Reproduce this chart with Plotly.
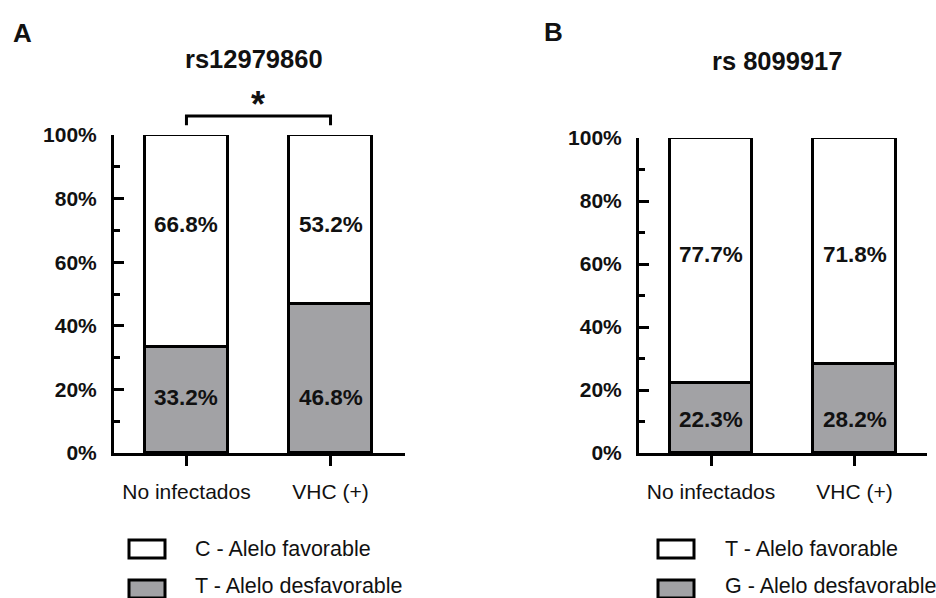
import plotly.graph_objects as go

# ---------------- data ----------------
categories = ["No infectados", "VHC (+)"]
a_unfav = [33.2, 46.8]   # T - Alelo desfavorable
a_fav = [66.8, 53.2]     # C - Alelo favorable
b_unfav = [22.3, 28.2]   # G - Alelo desfavorable
b_fav = [77.7, 71.8]     # T - Alelo favorable
a_names = ["C - Alelo favorable", "T - Alelo desfavorable"]
b_names = ["T - Alelo favorable", "G - Alelo desfavorable"]
titles = ["rs12979860", "rs 8099917"]
panel_letters = ["A", "B"]
y_tickvals = [0, 20, 40, 60, 80, 100]
y_ticktext = ["0%", "20%", "40%", "60%", "80%", "100%"]
significance = "*"

# ---------------- style ----------------
W, H = 936, 598
GRAY = "#a2a2a5"
FONT = "Arial, Liberation Sans, sans-serif"
BAR_W = 0.576
LW = 3

def px(x):
    return x / W

def py(y):
    return 1 - y / H

fig = go.Figure()

def add_bars(xa, ya, unfav, fav, names):
    fig.add_trace(go.Bar(x=categories, y=unfav, name=names[1], width=BAR_W,
                         marker=dict(color=GRAY, line=dict(color="black", width=LW)),
                         xaxis=xa, yaxis=ya, showlegend=False, hoverinfo="skip"))
    fig.add_trace(go.Bar(x=categories, y=fav, name=names[0], width=BAR_W,
                         marker=dict(color="white", line=dict(color="black", width=LW)),
                         xaxis=xa, yaxis=ya, showlegend=False, hoverinfo="skip"))

add_bars("x", "y", a_unfav, a_fav, a_names)
add_bars("x2", "y2", b_unfav, b_fav, b_names)

xcommon = dict(type="category", showline=True, linewidth=LW, linecolor="black",
               ticks="outside", ticklen=10, tickwidth=LW, tickcolor="black",
               showgrid=False, zeroline=False, ticklabelstandoff=8, automargin=False,
               tickfont=dict(family=FONT, size=21, color="#111"))
ycommon = dict(range=[0, 100], showline=True, linewidth=LW, linecolor="black",
               ticks="inside", ticklen=10, tickwidth=LW, tickcolor="black",
               tickvals=y_tickvals, ticktext=y_ticktext, automargin=False,
               minor=dict(ticks="inside", ticklen=6, tickwidth=LW, tickcolor="black",
                          tickvals=[10, 30, 50, 70, 90], showgrid=False),
               showgrid=False, zeroline=False, ticklabelstandoff=10,
               tickfont=dict(family=FONT, size=21, color="#111", weight="bold"))

fig.update_layout(
    template="none",
    width=W, height=H, barmode="stack", bargap=0,
    margin=dict(l=0, r=0, t=0, b=0, pad=0, autoexpand=False),
    paper_bgcolor="white", plot_bgcolor="white",
    xaxis=dict(domain=[px(114), px(405)], range=[-0.503, 1.517], anchor="y", **xcommon),
    yaxis=dict(domain=[py(453), py(135)], anchor="x", **ycommon),
    xaxis2=dict(domain=[px(639), px(927)], range=[-0.502, 1.505], anchor="y2", **xcommon),
    yaxis2=dict(domain=[py(453), py(138)], anchor="x2", **ycommon),
)

annotations = []
shapes = []

def note(x, y, text, size, xref="paper", yref="paper", bold=True, xanchor="center"):
    f = dict(family=FONT, size=size, color="#111")
    if bold:
        f["weight"] = "bold"
    return dict(x=x, y=y, xref=xref, yref=yref, text=text, showarrow=False,
                xanchor=xanchor, yanchor="middle", font=f)

# bar value labels (fixed heights in each bar)
label_heights = {"x": (17.3, 72.0), "x2": (10.5, 62.9)}
for xa, ya, unfav, fav in [("x", "y", a_unfav, a_fav), ("x2", "y2", b_unfav, b_fav)]:
    lo, hi = label_heights[xa]
    for i, c in enumerate(categories):
        annotations.append(note(c, lo, f"{unfav[i]:.1f}%", 22.5, xref=xa, yref=ya))
        annotations.append(note(c, hi, f"{fav[i]:.1f}%", 22.5, xref=xa, yref=ya))

# titles and panel letters
annotations.append(note(px(254), py(59), titles[0], 25.5))
annotations.append(note(px(777), py(61), titles[1], 25.5))
annotations.append(note(px(22), py(33), panel_letters[0], 26))
annotations.append(note(px(553), py(32), panel_letters[1], 26))

# significance bracket
shapes.append(dict(type="path", xref="x", yref="y domain",
                   path="M 0,1.031 L 0,1.06 L 1,1.06 L 1,1.031",
                   line=dict(color="black", width=LW)))
annotations.append(note(0.5, py(104), significance, 36, xref="x"))

# custom legends
text_rows = [548.5, 585.5]
for (bx, tx, names) in [(129, 193, a_names), (658, 723, b_names)]:
    for row, (fill, name) in enumerate([("white", names[0]), (GRAY, names[1])]):
        by = 540 + row * 40
        shapes.append(dict(type="rect", xref="paper", yref="paper",
                           x0=px(bx), x1=px(bx + 36), y0=py(by), y1=py(by + 18),
                           fillcolor=fill, line=dict(color="black", width=LW)))
        annotations.append(note(px(tx), py(text_rows[row]), name, 21.5, bold=False, xanchor="left"))

fig.update_layout(annotations=annotations, shapes=shapes)

fig.write_html("out.html")
